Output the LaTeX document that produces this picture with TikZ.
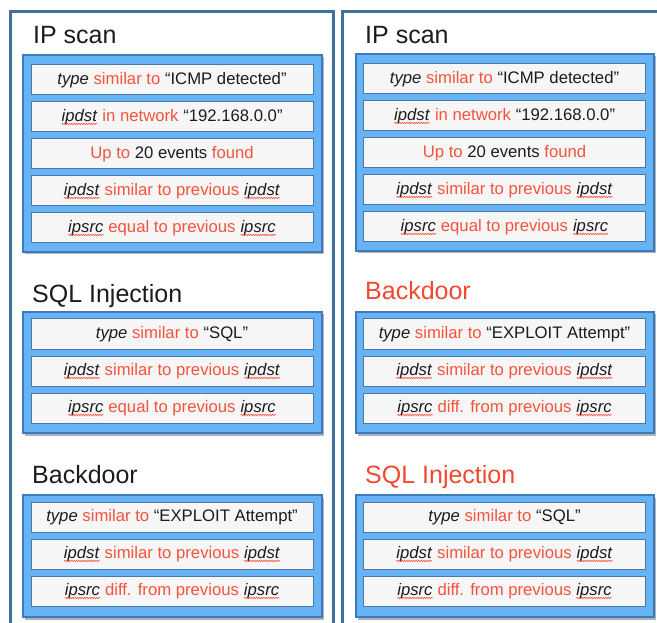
\documentclass[tikz,border=0pt]{standalone}
\usepackage{fontspec}
\setmainfont{Liberation Sans}
\usetikzlibrary{shadows,decorations.pathmorphing}
\definecolor{panelc}{HTML}{41709F}
\definecolor{groupc}{HTML}{3D7BBE}
\definecolor{groupfill}{HTML}{66B4F6}
\definecolor{rowc}{HTML}{4C78A6}
\definecolor{rowfill}{HTML}{F6F6F6}
\definecolor{redtxt}{HTML}{F5533C}
\definecolor{redtitle}{HTML}{F2482E}
\definecolor{txt}{HTML}{1C1C1C}
\tikzset{
  panel/.style={draw=panelc, line width=3pt},
  group/.style={draw=groupc, fill=groupfill, line width=1.2pt,
    drop shadow={shadow xshift=1.5pt, shadow yshift=-2.5pt, opacity=.3, fill=black}},
  rowbox/.style={draw=rowc, fill=rowfill, line width=1pt, minimum width=282pt,
    minimum height=30pt, inner sep=0pt, text=txt, font=\fontsize{16.7}{19}\selectfont},
  title/.style={anchor=base west, inner sep=0pt, text=txt, font=\fontsize{25}{30}\selectfont},
  wordbox/.style={draw=none, fill=none, minimum width=0pt, minimum height=0pt,
    inner sep=0pt, outer sep=0pt, anchor=base},
  wavy/.style={draw=redtxt, line width=.6pt, decorate,
    decoration={snake, amplitude=.7pt, segment length=2.4pt}},
}
\newcommand\rd[1]{\textcolor{redtxt}{#1}}
\newcommand\sq[1]{\tikz[baseline=(sqw.base)]{\node[wordbox] (sqw) {\textit{#1}};
  \draw[wavy] ([yshift=-2.8pt]sqw.base west) -- ([yshift=-2.8pt]sqw.base east);}}
\begin{document}
\begin{tikzpicture}[x=1pt,y=-1pt]
\useasboundingbox (0,0) rectangle (657,623);
\clip (0,0) rectangle (657,623);
% panels
\draw[panel] (10.5,12) rectangle (333,660);
\draw[panel] (342.5,12) rectangle (680,660);
% ---------- left panel ----------
\node[title] (lt1) at (33,44) {IP scan};
\draw[group] (23,55) rectangle (322,252);
\node[rowbox] (l11) at (172,80) {\textit{type} \rd{similar to} “ICMP detected"};
\node[rowbox] (l12) at (172,117) {\sq{ipdst} \rd{in network} “192.168.0.0"};
\node[rowbox] (l13) at (172,154) {\rd{Up to} 20 events \rd{found}};
\node[rowbox] (l14) at (172,191) {\sq{ipdst} \rd{similar to previous} \sq{ipdst}};
\node[rowbox] (l15) at (172,228) {\sq{ipsrc} \rd{equal to previous} \sq{ipsrc}};

\node[title] (lt2) at (32,302) {SQL Injection};
\draw[group] (23,312) rectangle (322,433);
\node[rowbox] (l21) at (172,334) {\textit{type} \rd{similar to} “SQL"};
\node[rowbox] (l22) at (172,371) {\sq{ipdst} \rd{similar to previous} \sq{ipdst}};
\node[rowbox] (l23) at (172,408) {\sq{ipsrc} \rd{equal to previous} \sq{ipsrc}};

\node[title] (lt3) at (32,483) {Backdoor};
\draw[group] (23,495) rectangle (322,617);
\node[rowbox] (l31) at (172,517) {\textit{type} \rd{similar to} “EXPLOIT Attempt"};
\node[rowbox] (l32) at (172,554) {\sq{ipdst} \rd{similar to previous} \sq{ipdst}};
\node[rowbox] (l33) at (172,591) {\sq{ipsrc} \rd{diff. from previous} \sq{ipsrc}};

% ---------- right panel ----------
\node[title] (rt1) at (365,44) {IP scan};
\draw[group] (356,54) rectangle (654,251);
\node[rowbox] (r11) at (504.5,79) {\textit{type} \rd{similar to} “ICMP detected"};
\node[rowbox] (r12) at (504.5,116) {\sq{ipdst} \rd{in network} “192.168.0.0"};
\node[rowbox] (r13) at (504.5,153) {\rd{Up to} 20 events \rd{found}};
\node[rowbox] (r14) at (504.5,190) {\sq{ipdst} \rd{similar to previous} \sq{ipdst}};
\node[rowbox] (r15) at (504.5,227) {\sq{ipsrc} \rd{equal to previous} \sq{ipsrc}};

\node[title, text=redtitle] (rt2) at (365,300) {Backdoor};
\draw[group] (356,312) rectangle (654,433);
\node[rowbox] (r21) at (504.5,334) {\textit{type} \rd{similar to} “EXPLOIT Attempt"};
\node[rowbox] (r22) at (504.5,371) {\sq{ipdst} \rd{similar to previous} \sq{ipdst}};
\node[rowbox] (r23) at (504.5,408) {\sq{ipsrc} \rd{diff. from previous} \sq{ipsrc}};

\node[title, text=redtitle] (rt3) at (365,483) {SQL Injection};
\draw[group] (356,495) rectangle (654,617);
\node[rowbox] (r31) at (504.5,517) {\textit{type} \rd{similar to} “SQL"};
\node[rowbox] (r32) at (504.5,554) {\sq{ipdst} \rd{similar to previous} \sq{ipdst}};
\node[rowbox] (r33) at (504.5,591) {\sq{ipsrc} \rd{diff. from previous} \sq{ipsrc}};
\end{tikzpicture}
\end{document}
